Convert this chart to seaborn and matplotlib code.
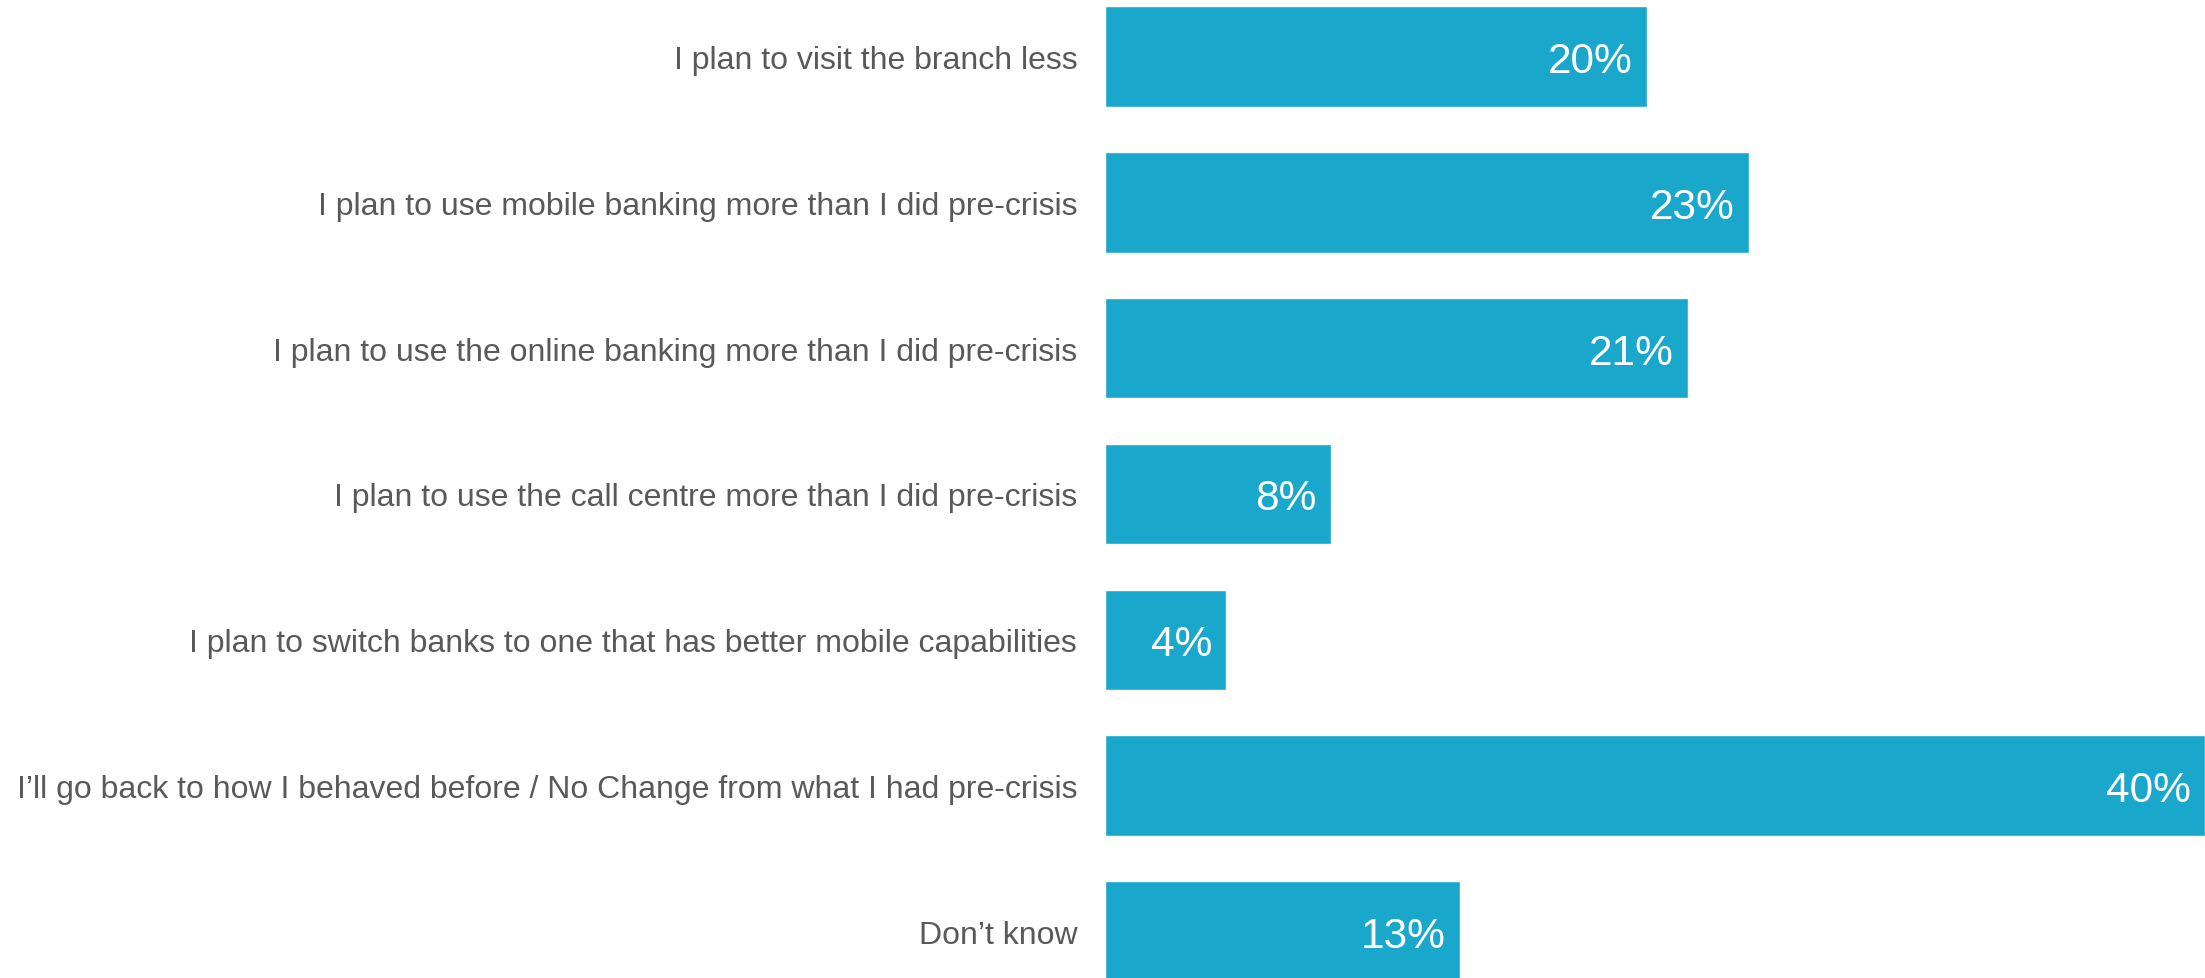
import matplotlib
matplotlib.use("Agg")
import matplotlib.pyplot as plt
import seaborn as sns
import pandas as pd

statements = [
    "I plan to visit the branch less",
    "I plan to use mobile banking more than I did pre-crisis",
    "I plan to use the online banking more than I did pre-crisis",
    "I plan to use the call centre more than I did pre-crisis",
    "I plan to switch banks to one that has better mobile capabilities",
    "I\u2019ll go back to how I behaved before / No Change from what I had pre-crisis",
    "Don\u2019t know",
]
share = [19.7, 23.4, 21.2, 8.2, 4.4, 40.0, 12.9]

df = pd.DataFrame({"statement": statements, "share": share})

sns.set_style("white")
plt.rcParams["font.family"] = ["Liberation Sans", "DejaVu Sans"]

fig = plt.figure(figsize=(22.05, 9.79), dpi=100)
ax = fig.add_axes([1105 / 2205, 0, 1 - 1105 / 2205, 1])

sns.barplot(data=df, x="share", y="statement", orient="h", color="#19A8CB",
            saturation=1, width=0.69, ax=ax)

# value labels inside the bar end
for i, v in enumerate(df["share"]):
    ax.annotate(f"{v:.0f}%", xy=(v, i), xytext=(-10, 0), textcoords="offset points",
                ha="right", va="center_baseline", color="white", fontsize=30.5)

ax.set_xlim(0, 40)
ax.set_ylim(6.318, -0.393)
ax.set_xlabel("")
ax.set_ylabel("")
ax.set_xticks([])
ax.tick_params(axis="y", length=0, pad=20, labelsize=23, labelcolor="#595959")
sns.despine(ax=ax, left=True, bottom=True)

fig.savefig("out.png", dpi=100)
